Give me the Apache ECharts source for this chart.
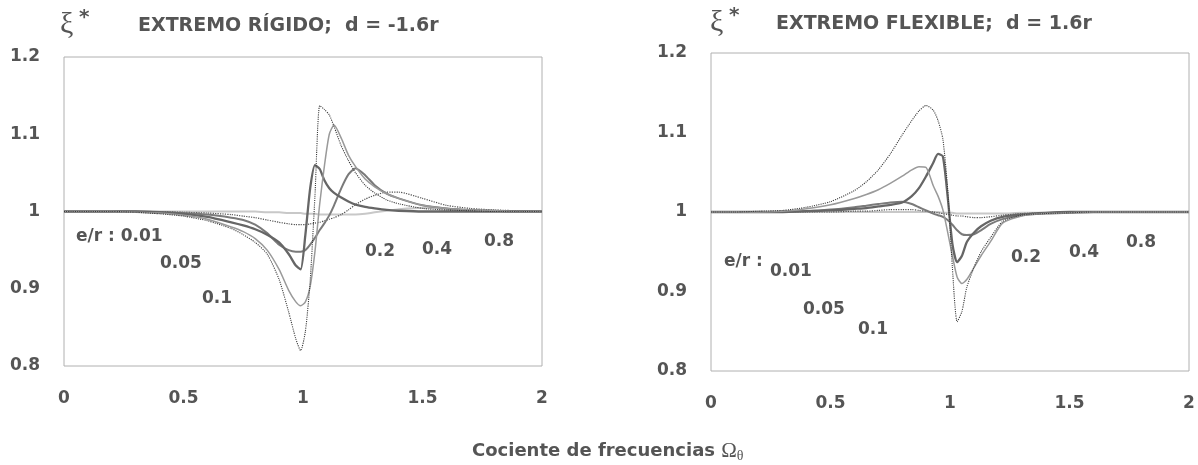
<!DOCTYPE html>
<html>
<head>
<meta charset="utf-8">
<script src="https://cdn.jsdelivr.net/npm/echarts@6/dist/echarts.min.js"></script>
<style>
html,body{margin:0;padding:0;background:#fff;}
#chart{width:1198px;height:465px;}
</style>
</head>
<body>
<div id="chart"></div>
<script>
// ---------- DATA ----------
var xTicks = [0, 0.5, 1, 1.5, 2];
var yTicks = [0.8, 0.9, 1, 1.1, 1.2];
var eRatios = ['0.01', '0.05', '0.1', '0.2', '0.4', '0.8'];

// Left panel: EXTREMO RÍGIDO; d = -1.6r
var leftX = [0, 0.2, 0.3, 0.4, 0.5, 0.6, 0.7, 0.75, 0.8, 0.85, 0.9, 0.94, 0.97, 0.99, 1.01, 1.03, 1.05, 1.07, 1.09, 1.11, 1.13, 1.16, 1.19, 1.22, 1.26, 1.3, 1.35, 1.4, 1.5, 1.6, 1.7, 1.8, 1.9, 2.0];
var left001 = [1, 1, 0.999, 0.997, 0.994, 0.988, 0.978, 0.970, 0.960, 0.945, 0.912, 0.870, 0.835, 0.820, 0.845, 0.910, 1.020, 1.137, 1.132, 1.125, 1.110, 1.085, 1.066, 1.050, 1.034, 1.024, 1.015, 1.010, 1.004, 1.002, 1.001, 1, 1, 1];
var left005 = [1, 1, 0.999, 0.998, 0.995, 0.990, 0.980, 0.974, 0.965, 0.950, 0.925, 0.898, 0.883, 0.878, 0.883, 0.903, 0.948, 1.010, 1.060, 1.100, 1.112, 1.095, 1.073, 1.058, 1.042, 1.032, 1.023, 1.017, 1.008, 1.004, 1.002, 1.001, 1, 1];
var left01  = [1, 1, 1, 0.999, 0.997, 0.993, 0.986, 0.982, 0.977, 0.970, 0.960, 0.945, 0.930, 0.925, 0.970, 1.030, 1.060, 1.055, 1.040, 1.030, 1.024, 1.018, 1.013, 1.009, 1.006, 1.004, 1.002, 1.001, 1, 1, 1, 1, 1, 1];
var left02  = [1, 1, 1, 0.999, 0.998, 0.996, 0.992, 0.989, 0.983, 0.972, 0.957, 0.950, 0.948, 0.948, 0.950, 0.957, 0.966, 0.976, 0.985, 0.995, 1.008, 1.030, 1.048, 1.056, 1.047, 1.034, 1.023, 1.017, 1.008, 1.004, 1.002, 1.001, 1, 1];
var left04  = [1, 1, 1, 1, 0.999, 0.998, 0.996, 0.994, 0.992, 0.989, 0.986, 0.984, 0.983, 0.983, 0.983, 0.984, 0.985, 0.986, 0.988, 0.990, 0.992, 0.996, 1.002, 1.009, 1.016, 1.021, 1.025, 1.025, 1.017, 1.008, 1.004, 1.002, 1.001, 1];
var left08  = [1, 1, 1, 1, 1, 1, 1, 1, 1, 0.999, 0.999, 0.998, 0.998, 0.998, 0.997, 0.997, 0.997, 0.996, 0.996, 0.996, 0.996, 0.996, 0.996, 0.996, 0.997, 0.999, 1.001, 1.003, 1.005, 1.004, 1.002, 1.001, 1, 1];

// Right panel: EXTREMO FLEXIBLE; d = 1.6r
var rightX = [0, 0.1, 0.2, 0.3, 0.4, 0.5, 0.6, 0.65, 0.7, 0.75, 0.8, 0.84, 0.87, 0.9, 0.93, 0.95, 0.97, 0.99, 1.01, 1.03, 1.05, 1.07, 1.1, 1.13, 1.17, 1.22, 1.3, 1.4, 1.5, 1.6, 1.8, 2.0];
var right001 = [1, 1, 1.001, 1.002, 1.006, 1.013, 1.027, 1.038, 1.053, 1.073, 1.097, 1.115, 1.127, 1.134, 1.128, 1.115, 1.092, 1.030, 0.930, 0.862, 0.875, 0.905, 0.930, 0.950, 0.968, 0.988, 0.996, 0.998, 0.999, 1, 1, 1];
var right005 = [1, 1, 1, 1.001, 1.004, 1.009, 1.017, 1.022, 1.028, 1.036, 1.045, 1.053, 1.057, 1.056, 1.033, 1.020, 1.003, 0.975, 0.945, 0.918, 0.910, 0.915, 0.930, 0.945, 0.963, 0.986, 0.995, 0.998, 0.999, 1, 1, 1];
var right01  = [1, 1, 1, 1, 1.001, 1.002, 1.004, 1.005, 1.007, 1.009, 1.012, 1.020, 1.030, 1.045, 1.062, 1.073, 1.070, 1.020, 0.960, 0.937, 0.945, 0.962, 0.974, 0.982, 0.989, 0.994, 0.997, 0.999, 1, 1, 1, 1];
var right02  = [1, 1, 1, 1, 1.001, 1.003, 1.006, 1.008, 1.010, 1.012, 1.013, 1.010, 1.006, 1.002, 0.998, 0.996, 0.994, 0.990, 0.984, 0.977, 0.972, 0.971, 0.972, 0.977, 0.985, 0.991, 0.996, 0.998, 0.999, 1, 1, 1];
var right04  = [1, 1, 1, 1, 1, 1, 1.001, 1.001, 1.002, 1.003, 1.003, 1.003, 1.002, 1.001, 1.000, 0.999, 0.998, 0.997, 0.996, 0.995, 0.995, 0.994, 0.993, 0.993, 0.994, 0.996, 0.998, 0.999, 1, 1, 1, 1];
var right08  = [1, 1, 1, 1, 1, 1, 1, 1, 1, 1, 1, 1, 1, 1, 1, 1, 0.999, 0.999, 0.999, 0.998, 0.998, 0.998, 0.998, 0.998, 0.998, 0.998, 0.999, 0.999, 1, 1, 1, 1];

var leftTitle = 'EXTREMO RÍGIDO;  d = -1.6r';
var rightTitle = 'EXTREMO FLEXIBLE;  d = 1.6r';
var xName = 'Cociente de frecuencias ';

// ---------- BUILD ----------
function zip(xs, ys) { return xs.map(function (x, i) { return [x, ys[i]]; }); }

var styles = [
  { color: '#3a3a3a', width: 1.1, type: 'dotted' },
  { color: '#9a9a9a', width: 1.5, type: 'solid' },
  { color: '#666666', width: 2.3, type: 'solid' },
  { color: '#7a7a7a', width: 2.0, type: 'solid' },
  { color: '#505050', width: 1.2, type: 'dotted' },
  { color: '#c8c8c8', width: 2.0, type: 'solid' }
];
var leftSets = [left001, left005, left01, left02, left04, left08];
var rightSets = [right001, right005, right01, right02, right04, right08];

var series = [];
leftSets.forEach(function (ys, i) {
  series.push({ type: 'line', xAxisIndex: 0, yAxisIndex: 0, name: 'L ' + eRatios[i],
    data: zip(leftX, ys), showSymbol: false, smooth: 0.22, lineStyle: styles[i], z: 10 - i });
});
rightSets.forEach(function (ys, i) {
  series.push({ type: 'line', xAxisIndex: 1, yAxisIndex: 1, name: 'R ' + eRatios[i],
    data: zip(rightX, ys), showSymbol: false, smooth: 0.22, lineStyle: styles[i], z: 10 - i });
});

var FONT = '"DejaVu Sans", Verdana, sans-serif';
var SERIF = '"Liberation Serif", "DejaVu Serif", serif';
var labelStyle = { color: '#555', fontSize: 17, fontWeight: 'bold', fontFamily: FONT };

function xAxis(idx) {
  return { type: 'value', gridIndex: idx, min: xTicks[0], max: xTicks[xTicks.length - 1], interval: 0.5,
    axisLine: { show: false }, axisTick: { show: false }, splitLine: { show: false },
    axisLabel: Object.assign({ margin: 24 }, labelStyle) };
}
function yAxis(idx) {
  return { type: 'value', gridIndex: idx, min: yTicks[0], max: yTicks[yTicks.length - 1], interval: 0.1,
    axisLine: { show: false }, axisTick: { show: false }, splitLine: { show: false },
    axisLabel: Object.assign({ margin: 24, formatter: function (v) { return String(+v.toFixed(2)); } }, labelStyle) };
}

function txt(x, y, s, extra) {
  return { type: 'text', left: x, top: y, style: Object.assign({ text: s, fill: '#555', font: 'bold 17px ' + FONT }, extra || {}) };
}

var chart = echarts.init(document.getElementById('chart'), null, { renderer: 'canvas' });
chart.setOption({
  animation: false,
  backgroundColor: '#fff',
  grid: [
    { left: 64, top: 57, width: 478, height: 309, show: true, borderColor: '#b0b0b0', borderWidth: 1, containLabel: false },
    { left: 711, top: 53, width: 478, height: 318, show: true, borderColor: '#b0b0b0', borderWidth: 1, containLabel: false }
  ],
  xAxis: [xAxis(0), xAxis(1)],
  yAxis: [yAxis(0), yAxis(1)],
  series: series,
  graphic: [
    txt(60, 10, 'ξ', { font: '30px ' + SERIF }),
    txt(79, 8, '*', { font: 'bold 20px ' + FONT }),
    txt(138, 17, leftTitle, { font: 'bold 19px ' + FONT }),
    txt(710, 8, 'ξ', { font: '30px ' + SERIF }),
    txt(729, 6, '*', { font: 'bold 20px ' + FONT }),
    txt(776, 15, rightTitle, { font: 'bold 19px ' + FONT }),
    { type: 'text', left: 472, top: 441, style: { rich: {
        a: { fill: '#555', font: 'bold 18px ' + FONT },
        b: { fill: '#555', font: '21px ' + SERIF },
        c: { fill: '#555', font: '14px ' + SERIF, padding: [10, 0, 0, 0] }
      }, text: '{a|' + xName + '}{b|Ω}{c|θ}' } },
    // left curve labels
    txt(76, 228, 'e/r : ' + eRatios[0]),
    txt(160, 255, eRatios[1]),
    txt(202, 290, eRatios[2]),
    txt(365, 243, eRatios[3]),
    txt(422, 241, eRatios[4]),
    txt(484, 233, eRatios[5]),
    // right curve labels
    txt(724, 253, 'e/r :'),
    txt(770, 263, eRatios[0]),
    txt(803, 301, eRatios[1]),
    txt(858, 321, eRatios[2]),
    txt(1011, 249, eRatios[3]),
    txt(1069, 244, eRatios[4]),
    txt(1126, 234, eRatios[5])
  ]
});
</script>
</body>
</html>
